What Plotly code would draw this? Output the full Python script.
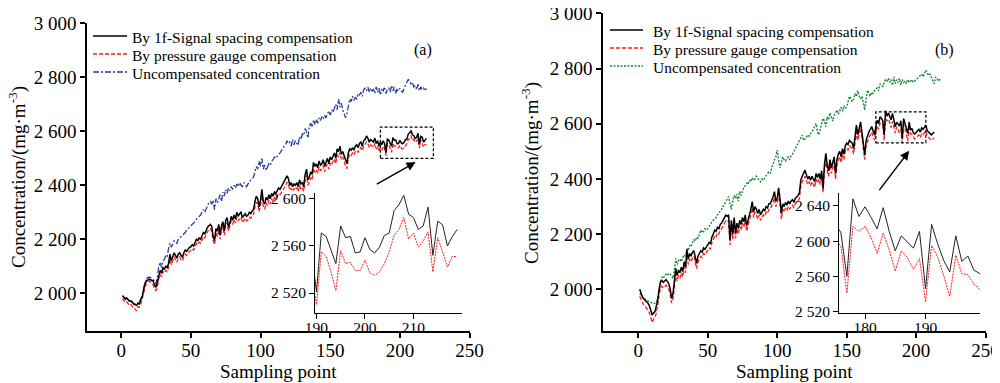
import plotly.graph_objects as go

# ---------------- data: panel (a) ----------------
x_a = list(range(1, 220))
black_a = [1990, 1985, 1978, 1982, 1975, 1970, 1972, 1965, 1960, 1958,
           1955, 1962, 1960, 1975, 1985, 2010, 2035, 2045, 2050, 2052,
           2050, 2048, 2045, 2030, 2022, 2040, 2070, 2085, 2075, 2095,
           2090, 2100, 2095, 2110, 2145, 2120, 2135, 2150, 2140, 2130,
           2145, 2150, 2140, 2135, 2150, 2160, 2155, 2165, 2170, 2172,
           2180, 2175, 2190, 2200, 2195, 2205, 2200, 2215, 2225, 2220,
           2235, 2245, 2250, 2255, 2248, 2210, 2195, 2240, 2230, 2255,
           2215, 2250, 2265, 2230, 2270, 2280, 2245, 2260, 2285, 2270,
           2290, 2275, 2300, 2285, 2295, 2300, 2280, 2290, 2295, 2285,
           2290, 2300, 2295, 2305, 2310, 2340, 2360, 2350, 2320, 2345,
           2385, 2340, 2330, 2355, 2345, 2365, 2350, 2370, 2360, 2375,
           2370, 2380, 2390, 2385, 2395, 2400, 2410, 2420, 2435, 2425,
           2400, 2410, 2395, 2405, 2400, 2410, 2395, 2420, 2405, 2410,
           2395, 2440, 2460, 2420, 2430, 2450, 2440, 2485, 2470, 2480,
           2465, 2490, 2475, 2480, 2495, 2470, 2490, 2500, 2480, 2505,
           2495, 2510, 2520, 2500, 2535, 2525, 2545, 2515, 2525, 2510,
           2490, 2480, 2520, 2535, 2530, 2540, 2530, 2545, 2550, 2540,
           2555, 2560, 2545, 2565, 2570, 2583, 2575, 2560, 2570, 2565,
           2560, 2575, 2555, 2565, 2545, 2560, 2550, 2565, 2555,
           2521, 2571, 2568, 2557, 2545, 2577, 2567, 2568, 2554, 2555,
           2567, 2557, 2554, 2559, 2569, 2571, 2590, 2595, 2603, 2587,
           2584, 2574, 2577, 2593, 2552, 2581, 2578, 2560, 2568, 2574]
red_a = [1980, 1972, 1965, 1968, 1960, 1955, 1958, 1950, 1945, 1942,
         1935, 1950, 1948, 1960, 1975, 2000, 2020, 2035, 2042, 2045,
         2042, 2038, 2030, 2015, 2010, 2025, 2055, 2070, 2060, 2080,
         2075, 2085, 2080, 2095, 2125, 2105, 2120, 2135, 2125, 2115,
         2130, 2135, 2125, 2120, 2135, 2145, 2140, 2150, 2155, 2158,
         2165, 2160, 2175, 2185, 2180, 2190, 2185, 2200, 2210, 2205,
         2220, 2228, 2235, 2240, 2230, 2195, 2180, 2225, 2210, 2235,
         2200, 2235, 2248, 2215, 2252, 2262, 2230, 2245, 2268, 2255,
         2272, 2260, 2282, 2268, 2278, 2282, 2262, 2272, 2278, 2268,
         2272, 2282, 2278, 2288, 2292, 2320, 2338, 2330, 2302, 2325,
         2362, 2320, 2312, 2335, 2325, 2345, 2330, 2350, 2340, 2355,
         2350, 2360, 2370, 2365, 2375, 2380, 2390, 2398, 2412, 2405,
         2382, 2390, 2378, 2388, 2382, 2392, 2378, 2400, 2385, 2390,
         2378, 2420, 2438, 2400, 2410, 2428, 2420, 2462, 2448, 2458,
         2445, 2468, 2455, 2460, 2472, 2450, 2470, 2478, 2460, 2482,
         2475, 2488, 2498, 2480, 2512, 2505, 2522, 2495, 2505, 2490,
         2470, 2462, 2500, 2515, 2510, 2520, 2512, 2525, 2530, 2522,
         2535, 2540, 2528, 2545, 2550, 2562, 2555, 2540, 2550, 2545,
         2540, 2555, 2535, 2545, 2525, 2540, 2530, 2545, 2538,
         2510, 2555, 2551, 2538, 2522, 2556, 2545, 2546, 2539, 2539,
         2548, 2537, 2535, 2538, 2545, 2555, 2569, 2574, 2584, 2566,
         2571, 2559, 2564, 2572, 2538, 2567, 2555, 2542, 2551, 2551]
blue_a = [1992, 1986, 1980, 1983, 1977, 1972, 1974, 1967, 1962, 1960,
          1958, 1965, 1963, 1978, 1990, 2015, 2040, 2052, 2058, 2060,
          2058, 2055, 2052, 2042, 2035, 2060, 2100, 2115, 2095, 2120,
          2125, 2140, 2135, 2165, 2185, 2170, 2180, 2195, 2190, 2185,
          2200, 2205, 2210, 2215, 2220, 2225, 2235, 2240, 2245, 2250,
          2255, 2260, 2265, 2275, 2280, 2285, 2290, 2300, 2310, 2300,
          2315, 2325, 2335, 2340, 2330, 2345, 2310, 2350, 2335, 2355,
          2365, 2340, 2375, 2360, 2385, 2370, 2390, 2380, 2395, 2385,
          2400, 2390, 2405, 2395, 2410, 2400, 2395, 2410, 2400, 2395,
          2405, 2410, 2420, 2425, 2430, 2450, 2470, 2460, 2490, 2470,
          2500, 2460, 2475, 2455, 2470, 2480, 2475, 2490, 2495, 2505,
          2500, 2510, 2515, 2520, 2530, 2540, 2545, 2550, 2565, 2555,
          2560, 2545, 2570, 2550, 2565, 2555, 2548, 2580, 2570, 2590,
          2585, 2610, 2600, 2575, 2620, 2630, 2615, 2640, 2625, 2645,
          2630, 2650, 2640, 2655, 2645, 2660, 2650, 2665, 2675, 2660,
          2680, 2670, 2690, 2700, 2680, 2720, 2690, 2705, 2680, 2660,
          2650, 2665, 2700, 2720, 2710, 2730, 2715, 2725, 2720, 2740,
          2735, 2745, 2730, 2755, 2760, 2750, 2765, 2745, 2760, 2750,
          2755, 2740, 2765, 2745, 2760, 2735, 2755, 2750, 2765, 2740,
          2755, 2760, 2745, 2770, 2750, 2765, 2740, 2755, 2750, 2760,
          2750, 2745, 2760, 2770, 2780, 2793, 2785, 2775, 2780, 2765,
          2770, 2755, 2775, 2750, 2765, 2755, 2760, 2750, 2760]

# ---------------- data: panel (b) ----------------
x_b = list(range(1, 214))
black_b = [2000, 1985, 1972, 1965, 1960, 1955, 1950, 1940, 1925, 1907,
           1915, 1919, 1940, 1961, 2000, 2028, 2032, 2025, 2030, 2035,
           2028, 2020, 2000, 1967, 1985, 2040, 2076, 2050, 2070, 2060,
           2080, 2065, 2100, 2080, 2143, 2110, 2130, 2120, 2135, 2140,
           2120, 2094, 2120, 2130, 2140, 2135, 2150, 2145, 2155, 2160,
           2170, 2165, 2190, 2200, 2215, 2210, 2225, 2220, 2235, 2240,
           2250, 2260, 2269, 2265, 2270, 2180, 2250, 2200, 2260, 2205,
           2240, 2220, 2250, 2235, 2260, 2245, 2270, 2230, 2255, 2270,
           2290, 2318, 2280, 2300, 2290, 2275, 2290, 2270, 2280, 2290,
           2285, 2300, 2295, 2310, 2310, 2320, 2335, 2354, 2320, 2330,
           2368, 2330, 2275, 2310, 2300, 2315, 2305, 2320, 2310, 2320,
           2325, 2315, 2330, 2335, 2340, 2350, 2396, 2410, 2420, 2432,
           2415, 2400, 2410, 2395, 2410, 2400, 2390, 2420, 2405, 2420,
           2400, 2430, 2366, 2450, 2493, 2450, 2430, 2470, 2440, 2460,
           2480, 2420, 2470, 2490, 2500, 2480, 2510, 2490, 2520, 2530,
           2525, 2540, 2535, 2530, 2510, 2550, 2595, 2560, 2580, 2607,
           2570, 2520, 2487, 2540, 2560, 2570, 2580, 2590, 2575, 2560,
           2590, 2613, 2600, 2625, 2620, 2610, 2560, 2648, 2628, 2639,
           2627, 2614, 2638, 2611, 2589, 2606, 2599, 2592, 2611, 2546,
           2619, 2597, 2578, 2565, 2606, 2577, 2583, 2567, 2563, 2570,
           2575, 2580, 2570, 2585, 2580, 2590, 2595, 2575, 2570, 2565,
           2560, 2565, 2570]
red_b = [1975, 1962, 1950, 1942, 1938, 1932, 1925, 1915, 1900, 1880,
         1892, 1898, 1915, 1940, 1980, 2005, 2012, 2005, 2010, 2015,
         2008, 2000, 1980, 1950, 1965, 2020, 2055, 2030, 2050, 2040,
         2060, 2045, 2080, 2060, 2120, 2090, 2110, 2100, 2115, 2120,
         2100, 2075, 2100, 2110, 2120, 2115, 2130, 2125, 2135, 2140,
         2150, 2145, 2170, 2180, 2195, 2190, 2205, 2200, 2215, 2220,
         2230, 2240, 2248, 2245, 2250, 2160, 2230, 2180, 2240, 2185,
         2220, 2200, 2230, 2215, 2240, 2225, 2250, 2210, 2235, 2250,
         2270, 2295, 2260, 2280, 2270, 2255, 2270, 2250, 2260, 2270,
         2265, 2280, 2275, 2290, 2290, 2300, 2315, 2332, 2300, 2310,
         2345, 2310, 2255, 2290, 2280, 2295, 2285, 2300, 2290, 2300,
         2305, 2295, 2310, 2315, 2320, 2330, 2375, 2390, 2400, 2410,
         2395, 2380, 2390, 2375, 2390, 2380, 2370, 2400, 2385, 2400,
         2380, 2410, 2350, 2430, 2470, 2430, 2410, 2450, 2420, 2440,
         2460, 2400, 2450, 2470, 2480, 2460, 2490, 2470, 2500, 2510,
         2505, 2520, 2515, 2510, 2490, 2530, 2570, 2540, 2560, 2585,
         2550, 2500, 2470, 2520, 2540, 2550, 2560, 2570, 2555, 2540,
         2570, 2592, 2580, 2602, 2600, 2595, 2541, 2617, 2611, 2617,
         2604, 2586, 2609, 2590, 2566, 2589, 2581, 2568, 2580, 2531,
         2595, 2582, 2561, 2537, 2584, 2563, 2562, 2551, 2545, 2550,
         2555, 2560, 2550, 2565, 2560, 2570, 2575, 2555, 2550, 2545,
         2540, 2545, 2548]
x_green = list(range(1, 219))
green_b = [1985, 1978, 1972, 1968, 1965, 1960, 1958, 1955, 1952, 1950,
           1948, 1950, 1955, 1970, 2000, 2030, 2046, 2040, 2050, 2055,
           2050, 2058, 2055, 2045, 2040, 2070, 2112, 2090, 2105, 2110,
           2100, 2115, 2125, 2120, 2150, 2140, 2160, 2155, 2170, 2180,
           2175, 2190, 2185, 2200, 2215, 2205, 2210, 2220, 2215, 2220,
           2230, 2235, 2245, 2250, 2255, 2260, 2270, 2275, 2285, 2290,
           2300, 2310, 2320, 2330, 2336, 2310, 2290, 2320, 2340, 2330,
           2345, 2320, 2355, 2340, 2360, 2370, 2375, 2385, 2380, 2396,
           2390, 2405, 2395, 2400, 2410, 2400, 2395, 2390, 2400, 2395,
           2405, 2410, 2420, 2425, 2420, 2440, 2460, 2470, 2480, 2505,
           2470, 2440, 2460, 2480, 2470, 2465, 2475, 2480, 2470, 2485,
           2490, 2500, 2510, 2520, 2525, 2540, 2550, 2559, 2540, 2545,
           2550, 2560, 2555, 2565, 2570, 2580, 2590, 2601, 2570, 2560,
           2580, 2600, 2620, 2610, 2590, 2625, 2615, 2640, 2620, 2610,
           2630, 2640, 2650, 2635, 2650, 2660, 2645, 2665, 2655, 2660,
           2680, 2700, 2690, 2680, 2690, 2710, 2700, 2720, 2700, 2690,
           2700, 2680, 2650, 2690, 2722, 2710, 2700, 2715, 2710, 2720,
           2725, 2730, 2720, 2745, 2740, 2735, 2750, 2760, 2755, 2765,
           2750, 2760, 2740, 2770, 2745, 2760, 2750, 2765, 2740, 2760,
           2750, 2755, 2745, 2760, 2750, 2755, 2760, 2750, 2755, 2760,
           2765, 2770, 2775, 2780, 2770, 2785, 2795, 2785, 2775, 2780,
           2770, 2760, 2745, 2770, 2765, 2755, 2760, 2755]

names = ["By 1f-Signal spacing compensation",
         "By pressure gauge compensation",
         "Uncompensated concentration"]
main_y_ticks = [2000, 2200, 2400, 2600, 2800, 3000]
main_y_text = ["2 000", "2 200", "2 400", "2 600", "2 800", "3 000"]
main_x_ticks = [0, 50, 100, 150, 200, 250]
inset_a_yticks = [2520, 2560, 2600]
inset_a_ytext = ["2 520", "2 560", "2 600"]
inset_a_xticks = [190, 200, 210]
inset_b_yticks = [2520, 2560, 2600, 2640]
inset_b_ytext = ["2 520", "2 560", "2 600", "2 640"]
inset_b_xticks = [180, 190]

SERIF = "Liberation Serif, Times New Roman, serif"
BLACK, RED, BLUE, GREEN = "#000000", "#ff1a1a", "#2a3c9e", "#17853a"
DASH_RED, DASH_BLUE, DASH_GREEN = "4px,2px", "6px,2px,2px,2px", "2px,1.5px"

# the page body adds an 8 px offset; the figure is sized to fill the rest
OFF = 8
W, H = 1000 - OFF, 383 - OFF
def PX(p):
    return (p - OFF) / W
def PY(p):
    return 1 - (p - OFF) / H

fig = go.Figure()

def line(x, y, xa, ya, color, dash, width, name=None):
    fig.add_trace(go.Scatter(
        x=x, y=y, mode="lines", xaxis=xa, yaxis=ya,
        line=dict(color=color, dash=dash, width=width),
        name=name, showlegend=False, hoverinfo="skip"))

# panel (a) main
line(x_a, blue_a, "x", "y", BLUE, DASH_BLUE, 1.3, names[2])
line(x_a, red_a, "x", "y", RED, DASH_RED, 1.3, names[1])
line(x_a, black_a, "x", "y", BLACK, "solid", 1.5, names[0])
# panel (a) inset
line(x_a, red_a, "x2", "y2", RED, "2px,1px", 1.0)
line(x_a, black_a, "x2", "y2", "#222222", "solid", 1.0)
# panel (b) main
line(x_green, green_b, "x3", "y3", GREEN, DASH_GREEN, 1.4, names[2])
line(x_b, red_b, "x3", "y3", RED, DASH_RED, 1.3, names[1])
line(x_b, black_b, "x3", "y3", BLACK, "solid", 1.5, names[0])
# panel (b) inset
line(x_b, red_b, "x4", "y4", RED, "2px,1px", 1.0)
line(x_b, black_b, "x4", "y4", "#222222", "solid", 1.0)

def ax(xpx, rng, tickvals, ticktext, anchor, size, lw, vertical=False, standoff=0):
    dom = [PY(xpx[1]), PY(xpx[0])] if vertical else [PX(xpx[0]), PX(xpx[1])]
    return dict(domain=dom, range=rng, tickvals=tickvals, ticktext=ticktext,
                anchor=anchor, showline=True, linecolor="black", linewidth=lw,
                ticks="outside", ticklen=5, tickwidth=lw, tickcolor="black",
                showgrid=False, zeroline=False, mirror=False, automargin=False,
                ticklabelstandoff=standoff, ticklabeloverflow="allow",
                tickfont=dict(family=SERIF, size=size, color="black"))

fig.update_layout(
    template="none",
    width=W, height=H,
    margin=dict(l=0, r=0, t=0, b=0, autoexpand=False),
    paper_bgcolor="white", plot_bgcolor="rgba(0,0,0,0)",
    font=dict(family=SERIF, color="black"),
    showlegend=False,
    xaxis=ax([87, 470], [-24.5, 250.3], main_x_ticks, [str(v) for v in main_x_ticks], "y", 19, 1.5, standoff=-4),
    yaxis=ax([23.3, 331], [1860, 3000.5], main_y_ticks, main_y_text, "x", 19, 1.5, True),
    xaxis2=ax([315, 462], [189.7, 220], inset_a_xticks, [str(v) for v in inset_a_xticks], "y2", 15.5, 1.0, standoff=-5),
    yaxis2=ax([193, 313], [2503, 2605], inset_a_yticks, inset_a_ytext, "x2", 15.5, 1.0, True),
    xaxis3=ax([603, 986], [-25.4, 250.3], main_x_ticks, [str(v) for v in main_x_ticks], "y3", 19, 1.5, standoff=-4),
    yaxis3=ax([13.3, 331], [1849, 3000.5], main_y_ticks, main_y_text, "x3", 19, 1.5, True),
    xaxis4=ax([839, 980], [175.7, 199], inset_b_xticks, [str(v) for v in inset_b_xticks], "y4", 15.5, 1.0, standoff=-5),
    yaxis4=ax([192.7, 313.3], [2518, 2655], inset_b_yticks, inset_b_ytext, "x4", 15.5, 1.0, True),
)

def text(px, py, s, size, angle=0, xanchor="center"):
    fig.add_annotation(xref="paper", yref="paper", x=PX(px), y=PY(py), text=s,
                       showarrow=False, textangle=angle, xanchor=xanchor, yanchor="middle",
                       font=dict(family=SERIF, size=size, color="black"))

# axis titles
ytitle = "Concentration/(mg·m<sup>-3</sup>)"
text(278, 371, "Sampling point", 19)
text(794, 371, "Sampling point", 19)
text(17, 177, ytitle, 19, -90)
text(531, 173, ytitle, 19, -90)

# manual legends
legend_styles = [(BLACK, "solid"), (RED, DASH_RED)]
def legend(x0, x1, xt, rows, third):
    styles = legend_styles + [third]
    for (color, dash), name, yl in zip(styles, names, rows):
        fig.add_shape(type="line", xref="paper", yref="paper",
                      x0=PX(x0), x1=PX(x1), y0=PY(yl), y1=PY(yl),
                      line=dict(color=color, dash=dash, width=1.5))
        text(xt, yl + 1.5, name, 15.5, xanchor="left")

legend(93, 127, 130, [36, 54, 72], (BLUE, DASH_BLUE))
legend(610, 643, 651, [30, 48, 66], (GREEN, DASH_GREEN))

# zoom boxes
fig.add_shape(type="rect", xref="x", yref="y", x0=186, x1=224, y0=2500, y1=2616,
              line=dict(color="black", width=1.2, dash="3px,2px"))
fig.add_shape(type="rect", xref="x3", yref="y3", x0=171, x1=207, y0=2531, y1=2643,
              line=dict(color="black", width=1.2, dash="3px,2px"))
# arrows
fig.add_annotation(xref="x", yref="y", axref="x", ayref="y", x=211.3, y=2486,
                   ax=182.4, ay=2401, text="", showarrow=True, arrowhead=2,
                   arrowsize=1.3, arrowwidth=1.4, arrowcolor="black")
fig.add_annotation(xref="x3", yref="y3", axref="x3", ayref="y3", x=195, y=2502,
                   ax=172.7, ay=2354, text="", showarrow=True, arrowhead=2,
                   arrowsize=1.3, arrowwidth=1.4, arrowcolor="black")
# panel labels
text(423, 50, "(a)", 16)
text(944, 50, "(b)", 16)

fig.write_html("out.html")
